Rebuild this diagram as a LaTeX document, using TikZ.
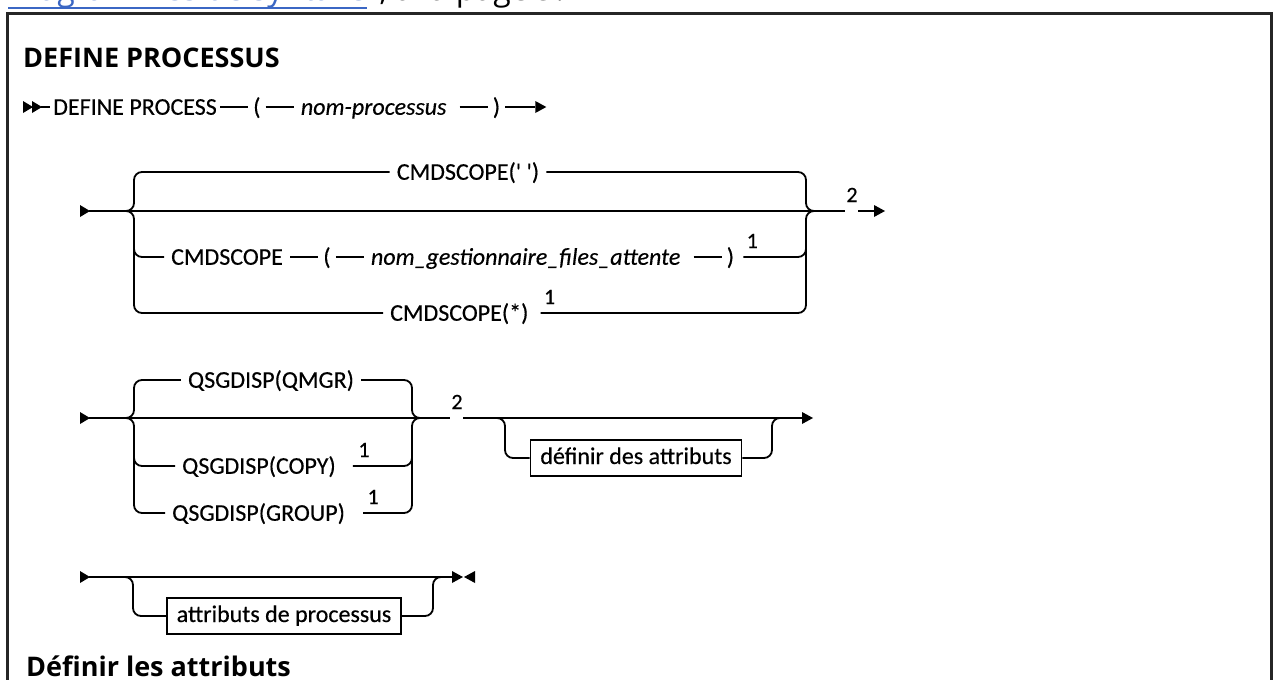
\documentclass[tikz,border=0pt]{standalone}
\usepackage{fontspec}
\setmainfont{Carlito}
\newfontfamily\dfam{Carlito}[FakeBold=0.35]
\newfontfamily\headfont{Open Sans}
\usetikzlibrary{positioning,calc}
\definecolor{linkblue}{HTML}{3B67C4}
\newcommand\dfont{\dfam\fontsize{24}{28}\selectfont}
\newcommand\nfont{\dfam\fontsize{22}{26}\selectfont}
\begin{document}
\begin{tikzpicture}[x=1pt,y=-1pt,
  trk/.style={line width=1.8pt},
  lbl/.style={inner xsep=7pt,inner ysep=0pt,text height=15.5pt,text depth=0pt,font=\dfont},
  ilbl/.style={lbl,font=\dfont\itshape},
  prn/.style={lbl,inner xsep=5pt},
  boxn/.style={draw,line width=1.6pt,inner xsep=10pt,inner ysep=7pt,text height=17pt,text depth=5pt,font=\dfont},
  note/.style={inner sep=0pt,font=\nfont},
  hd/.style={inner sep=0pt,text height=19pt,text depth=0pt,font=\headfont\bfseries\fontsize{27}{32}\selectfont}]
\useasboundingbox (0,0) rectangle (1275,680);
% top link (cut off at the top edge, as in the reference)
\node[anchor=base west,inner sep=0pt,text=linkblue,font=\headfont\fontsize{32}{36}\selectfont] (lk) at (8,1) {Diagrammes de syntaxe};
\node[anchor=base west,inner sep=0pt,font=\headfont\fontsize{32}{36}\selectfont] (lk2) at (lk.base east) {", à la page 9.};
\draw[linkblue,line width=1.2pt] ([yshift=-7pt]lk.base west) -- ([yshift=-7pt]lk.base east);
% frame
\draw[line width=3pt,black!85] (7,13) rectangle (1271,700);
% heading
\node[hd,anchor=west] (h1) at (23,58) {DEFINE PROCESSUS};
% ---------- row 1
\coordinate (r1s) at (23,107);
\fill (r1s) ++(0,-6) -- ++(10,6) -- ++(-10,6) -- cycle;
\fill ($(r1s)+(9,0)$) ++(0,-6) -- ++(10,6) -- ++(-10,6) -- cycle;
\node[lbl,anchor=west,inner xsep=3pt] (a1) at (50,107) {DEFINE PROCESS};
\draw[trk] ($(r1s)+(18,0)$) -- (a1);
\node[prn,right=28pt of a1] (a2) {(};
\draw[trk] (a1) -- (a2);
\node[ilbl,right=28pt of a2] (a3) {nom-processus};
\draw[trk] (a2) -- (a3);
\node[prn,right=34pt of a3] (a4) {)};
\draw[trk] ([xshift=6pt]a3.east) -- (a4);
\coordinate (a5) at ([xshift=30pt]a4.east);
\draw[trk] (a4) -- (a5);
\fill (a5) ++(0,-6) -- ++(11,6) -- ++(-11,6) -- cycle;
% ---------- row 2
\coordinate (b0) at (80,211);
\coordinate (bL) at (126,211);
\coordinate (bR) at (814,211);
\coordinate (bg1) at (845,211);
\coordinate (bg2) at (858,211);
\coordinate (bE) at (874,211);
\fill (b0) ++(0,-6) -- ++(10,6) -- ++(-10,6) -- cycle;
\draw[trk] ($(b0)+(9,0)$) -- (bg1);
\node[note] (bn2) at (852,195) {2};
\draw[trk] (bg2) -- (bE);
\fill (bE) ++(0,-6) -- ++(11,6) -- ++(-11,6) -- cycle;
% top branch
\node[lbl] (b1) at (468,172) {CMDSCOPE(\char"27{} \char"27)};
\draw[trk,rounded corners=8pt] (bL) -- (134,211) -- (134,172) -- (b1.west);
\draw[trk,rounded corners=8pt] (b1.east) -- (806,172) -- (806,211) -- (bR);
% middle branch
\node[lbl,anchor=west] (b2a) at (164,257) {CMDSCOPE};
\node[prn,right=28pt of b2a] (b2b) {(};
\draw[trk] (b2a) -- (b2b);
\node[ilbl,right=28pt of b2b] (b2c) {nom\_gestionnaire\_files\_attente};
\draw[trk] (b2b) -- (b2c);
\node[prn,right=34pt of b2c] (b2d) {)};
\draw[trk] ([xshift=6pt]b2c.east) -- (b2d);
\coordinate (b2e) at ([xshift=4pt]b2d.east);
\node[note] (bn1) at ($(b2e)+(9,-16)$) {1};
\draw[trk,rounded corners=8pt] (134,240) -- (134,257) -- (b2a.west);
\draw[trk,rounded corners=8pt] (b2e) -- (806,257) -- (806,240);
% bottom branch
\node[lbl,anchor=west] (b3) at (383,313) {CMDSCOPE(*)};
\coordinate (b3e) at ([xshift=5pt]b3.east);
\node[note] (bn3) at ($(b3e)+(9,-16)$) {1};
\draw[trk,rounded corners=8pt] (bL) -- (134,211) -- (134,313) -- (b3.west);
\draw[trk,rounded corners=8pt] (b3e) -- (806,313) -- (806,211) -- (bR);
% ---------- row 3
\coordinate (c0) at (80,418);
\coordinate (cL) at (126,418);
\coordinate (cR) at (420,418);
\coordinate (cg1) at (450,418);
\coordinate (cg2) at (463,418);
\coordinate (cB) at (497,418);
\coordinate (cB2) at (780,418);
\coordinate (cE) at (802,418);
\fill (c0) ++(0,-6) -- ++(10,6) -- ++(-10,6) -- cycle;
\draw[trk] ($(c0)+(9,0)$) -- (cg1);
\node[note] (cn2) at (457,402) {2};
\draw[trk] (cg2) -- (cE);
\fill (cE) ++(0,-6) -- ++(11,6) -- ++(-11,6) -- cycle;
\node[lbl] (c1) at (271,380) {QSGDISP(QMGR)};
\draw[trk,rounded corners=8pt] (cL) -- (134,418) -- (134,380) -- (c1.west);
\draw[trk,rounded corners=8pt] (c1.east) -- (412,380) -- (412,418) -- (cR);
\node[lbl,anchor=west] (c2) at (175,466) {QSGDISP(COPY)};
\coordinate (c2e) at ([xshift=10pt]c2.east);
\node[note] (cn1) at ($(c2e)+(11,-16)$) {1};
\draw[trk,rounded corners=8pt] (134,450) -- (134,466) -- (c2.west);
\draw[trk,rounded corners=8pt] (c2e) -- (412,466) -- (412,450);
\node[lbl,anchor=west] (c3) at (165,513) {QSGDISP(GROUP)};
\coordinate (c3e) at ([xshift=11pt]c3.east);
\node[note] (cn3) at ($(c3e)+(10,-16)$) {1};
\draw[trk,rounded corners=8pt] (cL) -- (134,418) -- (134,513) -- (c3.west);
\draw[trk,rounded corners=8pt] (c3e) -- (412,513) -- (412,418) -- (cR);
\node[boxn] (c4) at (636,458) {définir des attributs};
\draw[trk,rounded corners=8pt] (cB) -- (505,418) -- (505,458) -- (c4.west);
\draw[trk,rounded corners=8pt] (c4.east) -- (772,458) -- (772,418) -- (cB2);
% ---------- row 4
\coordinate (d0) at (80,577);
\coordinate (dL) at (125,577);
\coordinate (dR) at (441,577);
\coordinate (dE) at (452,577);
\fill (d0) ++(0,-6) -- ++(10,6) -- ++(-10,6) -- cycle;
\draw[trk] ($(d0)+(9,0)$) -- (dE);
\fill (dE) ++(0,-6) -- ++(11,6) -- ++(-11,6) -- cycle;
\fill ($(dE)+(23,0)$) ++(0,-6) -- ++(-11,6) -- ++(11,6) -- cycle;
\node[boxn] (d1) at (284,616) {attributs de processus};
\draw[trk,rounded corners=8pt] (dL) -- (133,577) -- (133,616) -- (d1.west);
\draw[trk,rounded corners=8pt] (d1.east) -- (433,616) -- (433,577) -- (dR);
% footer heading
\node[hd,anchor=west] (h2) at (26,667) {Définir les attributs};
\end{tikzpicture}
\end{document}
